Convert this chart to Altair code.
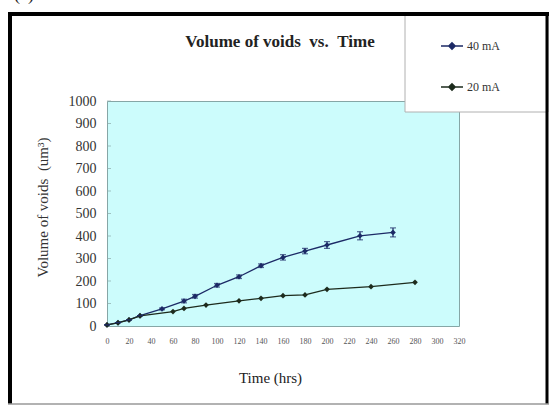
import altair as alt
import pandas as pd

# ---- data ----
t40 = [0, 10, 20, 30, 50, 70, 80, 100, 120, 140, 160, 180, 200, 230, 260]
v40 = [5, 15, 27, 46, 76, 111, 132, 181, 219, 268, 305, 333, 360, 401, 416]
e40 = [0, 0, 0, 0, 4, 8, 8, 8, 8, 8, 12, 12, 15, 18, 20]

t20 = [0, 10, 20, 30, 60, 70, 90, 120, 140, 160, 180, 200, 240, 280]
v20 = [5, 14, 27, 45, 64, 78, 93, 112, 123, 135, 138, 163, 175, 194]

series_names = ["40 mA", "20 mA"]
series_colors = ["#1c2a66", "#1d2b1d"]
x_ticks = list(range(0, 321, 20))
y_ticks = list(range(0, 1001, 100))
chart_title = "Volume of voids\u00a0\u00a0vs.\u00a0\u00a0Time"
y_title = "Volume of voids\u00a0\u00a0(um³)"
x_title = "Time (hrs)"

df = pd.DataFrame({
    "t": t40 + t20,
    "v": v40 + v20,
    "s": [series_names[0]] * len(t40) + [series_names[1]] * len(t20),
})
err = pd.DataFrame({
    "t": t40,
    "v": [v - e for v, e in zip(v40, e40)],
    "hi": [v + e for v, e in zip(v40, e40)],
})
ticks_df = pd.DataFrame({"v": y_ticks[1:]})
one = pd.DataFrame({"a": [0]})

SERIF = "Liberation Serif"
W, H = 352, 225
OX, OY = 107, 101  # plot origin on the page

xs = alt.Scale(domain=[0, 320], nice=False, zero=True)
ys = alt.Scale(domain=[0, 1000], nice=False)

x_axis = alt.Axis(
    values=x_ticks, format="d", title=x_title, labelFont=SERIF, labelFontSize=8,
    labelColor="#555555", labelPadding=11, labelOverlap=False, labelFlush=False,
    domain=False, ticks=False, grid=False,
    titleFont=SERIF, titleFontSize=15, titleFontWeight="normal", titleColor="#222222",
    titleX=163, titleY=51, titleBaseline="middle", titleAnchor="start", titleAlign="center")
y_axis = alt.Axis(
    values=y_ticks, format="d", title=y_title, labelFont=SERIF, labelFontSize=14,
    labelColor="#333333", labelPadding=11, labelOverlap=False, labelFlush=False,
    domain=False, ticks=False, grid=False,
    titleFont=SERIF, titleFontSize=15, titleFontWeight="normal", titleColor="#333333",
    titleAngle=270, titleX=-65, titleY=106, titleAlign="center", titleBaseline="middle")

color = alt.Color("s:N", scale=alt.Scale(domain=series_names, range=series_colors),
                  sort=series_names,
                  legend=alt.Legend(
                      title=None, orient="none", legendX=333, legendY=-67,
                      symbolType="M-1,0H1M0,-0.3L0.3,0L0,0.3L-0.3,0Z",
                      symbolSize=484, symbolStrokeWidth=1.3, symbolFillColor="#1d2340",
                      rowPadding=23, labelFont=SERIF, labelFontSize=12,
                      labelColor="#333333", labelOffset=3, padding=0))

lines = alt.Chart(df).mark_line(
    strokeWidth=1.3,
    point=alt.OverlayMarkDef(shape="diamond", size=32, filled=True),
).encode(x=alt.X("t:Q", scale=xs, axis=x_axis), y=alt.Y("v:Q", scale=ys, axis=y_axis), color=color)

bars = alt.Chart(err).mark_errorbar(ticks=alt.MarkConfig(size=6), color="#1c2a66", thickness=1.2).encode(
    x=alt.X("t:Q", scale=xs, axis=x_axis), y=alt.Y("v:Q", scale=ys, axis=y_axis), y2="hi:Q")

ytick = alt.Chart(ticks_df).mark_tick(orient="horizontal", size=4, thickness=1, color="#8aa8a8").encode(
    y=alt.Y("v:Q", scale=ys, axis=y_axis), x=alt.value(2))

legend_box = alt.Chart(one).mark_rect(fill="white", stroke="#b0b0b0", strokeWidth=1).encode(
    x=alt.value(405 - OX), x2=alt.value(548 - OX), y=alt.value(14 - OY), y2=alt.value(112 - OY))

frame_left = alt.Chart(one).mark_rule(color="black", strokeWidth=4).encode(
    x=alt.value(10 - OX), y=alt.value(12 - OY), y2=alt.value(404 - OY))
frame_top = alt.Chart(one).mark_rule(color="black", strokeWidth=4).encode(
    x=alt.value(8 - OX), x2=alt.value(549 - OX), y=alt.value(14 - OY))
frame_right = alt.Chart(one).mark_rule(color="black", strokeWidth=3).encode(
    x=alt.value(547 - OX), y=alt.value(12 - OY), y2=alt.value(404 - OY))
frame_bottom = alt.Chart(one).mark_rule(color="#999999", strokeWidth=1.5).encode(
    x=alt.value(8 - OX), x2=alt.value(549 - OX), y=alt.value(404 - OY))

title_text = alt.Chart(one).mark_text(text=chart_title, font=SERIF, fontSize=17, fontWeight="bold",
                                      baseline="middle", align="center", color="#222222").encode(
    x=alt.value(280 - OX), y=alt.value(42 - OY))

label_a = alt.Chart(one).mark_text(text="(a)", font=SERIF, fontSize=18, baseline="bottom",
                                   align="left", color="#222222").encode(
    x=alt.value(14 - OX), y=alt.value(4 - OY))

chart = alt.layer(
    lines, bars, ytick, legend_box, frame_left, frame_top, frame_right, frame_bottom,
    title_text, label_a
).properties(
    width=W, height=H,
    autosize=alt.AutoSizeParams(type="none"),
    padding={"left": OX, "top": OY, "right": 550 - OX - W, "bottom": 406 - OY - H},
).configure(
    background="white"
).configure_view(
    fill="#ccfcfc", stroke="#86a6a6", strokeWidth=1
)

chart.save("out.html", embed_options={"renderer": "svg", "actions": False})
